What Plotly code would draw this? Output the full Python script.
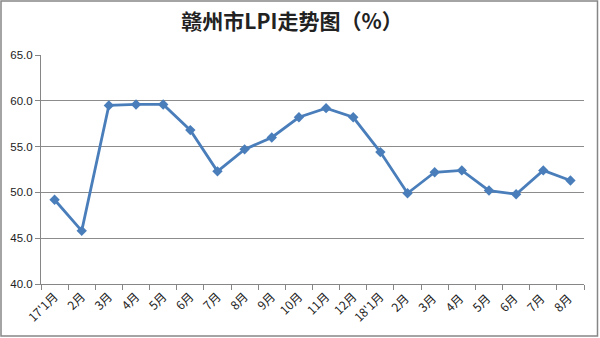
import plotly.graph_objects as go

categories = ["17'1月", "2月", "3月", "4月", "5月", "6月", "7月", "8月", "9月", "10月",
              "11月", "12月", "18'1月", "2月 ", "3月 ", "4月 ", "5月 ", "6月 ", "7月 ", "8月 "]
values = [49.2, 45.8, 59.5, 59.6, 59.6, 56.8, 52.3, 54.7, 56.0, 58.2,
          59.2, 58.2, 54.4, 49.9, 52.2, 52.4, 50.2, 49.8, 52.4, 51.3]
y_ticks = [40, 45, 50, 55, 60, 65]

fig = go.Figure()
fig.add_trace(go.Scatter(
    x=categories, y=values, mode="lines+markers",
    line=dict(color="#4A7EBB", width=2.8),
    marker=dict(symbol="diamond", size=8, color="#4A7EBB"),
    showlegend=False,
))

L, R, T, B = 41, 16, 55, 54
W, H = 600, 338
pw, ph = W - L - R, H - T - B

fig.update_layout(
    width=W, height=H,
    margin=dict(l=L, r=R, t=T, b=B),
    paper_bgcolor="white", plot_bgcolor="white",
    title=dict(text="<b>赣州市LPI走势图（%）</b>", x=292/W, xanchor="center",
               y=1 - 22/H, yanchor="middle",
               font=dict(family="Noto Sans CJK SC", size=21, color="#222222")),
    font=dict(family="Noto Sans CJK SC", size=11, color="#222222"),
)
fig.update_xaxes(
    type="category", range=[-0.5, len(categories) - 0.5], tickangle=-45, tickson="boundaries",
    ticks="outside", ticklen=5, tickcolor="#868686",
    showline=True, linecolor="#868686", linewidth=1,
    showgrid=False, tickfont=dict(size=12, family="Noto Sans CJK SC"),
    automargin=False,
)
fig.update_yaxes(
    range=[40, 65], tickvals=y_ticks, tickformat=".1f",
    ticks="outside", ticklen=5, tickcolor="#868686",
    showline=True, linecolor="#868686", linewidth=1,
    showgrid=True, gridcolor="#8c8c8c", gridwidth=1,
    zeroline=False, tickfont=dict(size=11.5, family="Liberation Sans"),
    automargin=False,
)
# outer frame
fig.add_shape(type="rect", xref="paper", yref="paper",
              x0=(1 - L) / pw, x1=(597.5 - L) / pw,
              y0=(H - B - 336) / ph, y1=(H - B - 1) / ph,
              line=dict(color="#868686", width=1.5), fillcolor="rgba(0,0,0,0)")

fig.write_html("out.html")
